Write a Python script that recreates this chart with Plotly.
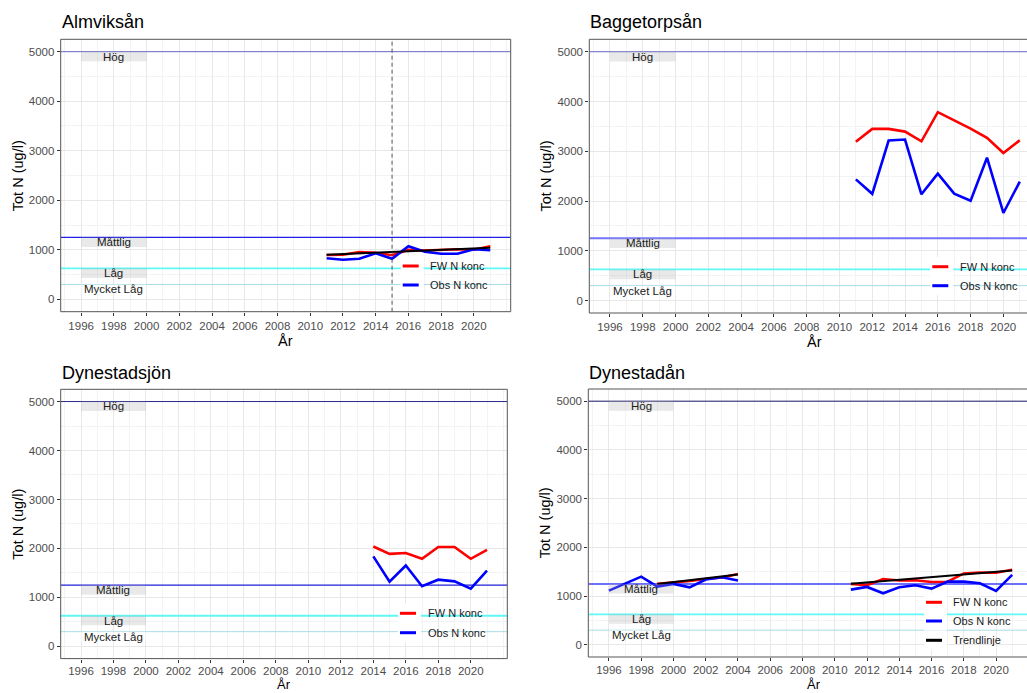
import plotly.graph_objects as go

W, H = 1027, 693
FONT = "Liberation Sans, Arial, sans-serif"

# ---------------- data ----------------
alm_years = [2011, 2012, 2013, 2014, 2015, 2016, 2017, 2018, 2019, 2020, 2021]
alm_fw = [895, 900, 955, 940, 890, 1000, 985, 1000, 1010, 1000, 1070]
alm_obs = [830, 800, 820, 930, 820, 1070, 960, 920, 920, 1010, 990]
alm_trend_years = [2011, 2021]
alm_trend = [900, 1040]
alm_break_year = 2015

bag_years = [2011, 2012, 2013, 2014, 2015, 2016, 2017, 2018, 2019, 2020, 2021]
bag_fw = [3190, 3450, 3450, 3395, 3200, 3785, 3620, 3455, 3270, 2965, 3220]
bag_obs = [2435, 2145, 3215, 3235, 2135, 2550, 2150, 2005, 2870, 1760, 2390]

dsj_years = [2014, 2015, 2016, 2017, 2018, 2019, 2020, 2021]
dsj_fw = [2040, 1889, 1908, 1788, 2030, 2030, 1788, 1970]
dsj_obs = [1838, 1323, 1651, 1228, 1362, 1328, 1180, 1549]

dyn_years = [1996, 1997, 1998, 1999, 2000, 2001, 2002, 2003, 2004, 2005,
             2006, 2007, 2008, 2009, 2010, 2011, 2012, 2013, 2014, 2015,
             2016, 2017, 2018, 2019, 2020, 2021]
dyn_fw = [None, None, None, 1250, 1275, 1310, 1350, 1380, 1455, None,
          None, None, None, None, None, 1250, 1225, 1350, 1320, 1325,
          1290, 1295, 1465, 1485, 1480, 1540]
dyn_obs = [1113, 1260, 1400, 1195, 1250, 1180, 1340, 1385, 1320, None,
           None, None, None, None, None, 1133, 1188, 1057, 1181, 1222,
           1153, 1297, 1297, 1262, 1106, 1434]
dyn_trend_years = [1999, 2004, None, 2011, 2021]
dyn_trend = [1250, 1445, None, 1255, 1525]

# class limits (ug/l) and their labels
class_limits = [5000, 1250, 625, 300]
class_labels = ["Hög", "Måttlig", "Låg", "Mycket Låg"]

x_ticks = [1996, 1998, 2000, 2002, 2004, 2006, 2008, 2010, 2012, 2014,
           2016, 2018, 2020]
y_ticks = [0, 1000, 2000, 3000, 4000, 5000]

legend_names = ["FW N konc", "Obs N konc", "Trendlinje"]

# ---------------- panel layout (pixels) ----------------
panels = [
    dict(title="Almviksån", box=(60.7, 39.3, 510.7, 311.7), xr=(1994.75, 2022.25),
         hog="#6b6bc8", matt="#1f1fe6", mattw=1.2, xtitle_y=340.5,
         leg=(402.7, 428, [266, 285])),
    dict(title="Baggetorpsån", box=(589.3, 39.3, 1027, 313.0), xr=(1994.74, 2021.44),
         hog="#6b6bc8", matt="#7373ff", mattw=2, xtitle_y=341.5,
         leg=(932.3, 957.7, [266.7, 285.7])),
    dict(title="Dynestadsjön", box=(60.7, 389.3, 507.3, 658.6), xr=(1994.75, 2022.25),
         hog="#2a2a8c", matt="#2020d8", mattw=1.2, xtitle_y=None,
         leg=(400, 425.7, [613.3, 632.7])),
    dict(title="Dynestadån", box=(588.3, 389.0, 1027, 657.0), xr=(1994.72, 2021.92),
         hog="#1c1c6b", matt="#6f6fff", mattw=2, xtitle_y=None,
         leg=(926, 951, [602.3, 621, 640.3])),
]

series = [
    [(alm_years, alm_fw, "red"), (alm_years, alm_obs, "blue"),
     (alm_trend_years, alm_trend, "black")],
    [(bag_years, bag_fw, "red"), (bag_years, bag_obs, "blue")],
    [(dsj_years, dsj_fw, "red"), (dsj_years, dsj_obs, "blue")],
    [(dyn_years, dyn_fw, "red"), (dyn_years, dyn_obs, "blue"),
     (dyn_trend_years, dyn_trend, "black")],
]
legend_colors = [["red", "blue"], ["red", "blue"], ["red", "blue"],
                 ["red", "blue", "black"]]


def px(x):
    return x / W


def py(y):
    return 1 - y / H


fig = go.Figure()
shapes, annos = [], []
layout = dict(width=W, height=H, margin=dict(l=0, r=0, t=0, b=0),
              paper_bgcolor="white", plot_bgcolor="white", showlegend=False,
              font=dict(family=FONT))

for i, p in enumerate(panels, start=1):
    sfx = "" if i == 1 else str(i)
    xa, ya = "x" + sfx, "y" + sfx
    x0, y0, x1, y1 = p["box"]
    bottom_row = p["xtitle_y"] is None
    layout["xaxis" + sfx] = dict(
        domain=[px(x0), px(x1)], range=list(p["xr"]), anchor=ya,
        tickmode="array", tickvals=x_ticks, ticks="outside", ticklen=3,
        tickcolor="#333333", tickwidth=1,
        ticklabelstandoff=-1 if bottom_row else 0,
        tickfont=dict(size=11.5, color="#4d4d4d", family=FONT),
        showgrid=True, gridcolor="#e8e8e8", gridwidth=1,
        minor=dict(dtick=1, tick0=1996, showgrid=True, gridcolor="#f3f3f3",
                   gridwidth=1),
        zeroline=False, showline=False, fixedrange=True)
    layout["yaxis" + sfx] = dict(
        domain=[py(y1), py(y0)], range=[-250, 5250], anchor=xa,
        tickmode="array", tickvals=y_ticks, ticks="outside", ticklen=3,
        tickcolor="#333333", tickwidth=1,
        tickfont=dict(size=11.5, color="#4d4d4d", family=FONT),
        showgrid=True, gridcolor="#e8e8e8", gridwidth=1,
        minor=dict(dtick=500, tick0=0, showgrid=True, gridcolor="#f3f3f3",
                   gridwidth=1),
        zeroline=False, showline=False, fixedrange=True)

    # class limit lines
    limit_styles = [(p["hog"], 1), (p["matt"], p["mattw"]),
                    ("#5ff7f7", 1.8), ("#a9dbe6", 1)]
    for lim, (col, lw) in zip(class_limits, limit_styles):
        fig.add_trace(go.Scatter(x=list(p["xr"]), y=[lim, lim], mode="lines",
                                 line=dict(color=col, width=lw),
                                 xaxis=xa, yaxis=ya, hoverinfo="skip",
                                 cliponaxis=True))

    # measured series
    for xs, ys, col in series[i - 1]:
        lw = 2 if col == "black" else 2.6
        fig.add_trace(go.Scatter(x=xs, y=ys, mode="lines",
                                 line=dict(color=col, width=lw),
                                 connectgaps=False, xaxis=xa, yaxis=ya))

    # class label boxes and texts
    for lim, lab in zip(class_limits, class_labels):
        fill = ("rgba(255,255,255,0.5)" if lab == "Mycket Låg"
                else "rgba(175,175,175,0.28)")
        shapes.append(dict(type="rect", xref=xa, yref=ya, x0=1996, x1=2000,
                           y0=lim - 195, y1=lim, fillcolor=fill,
                           line=dict(width=0), layer="above"))
        annos.append(dict(x=1998, y=lim - 100, xref=xa, yref=ya, text=lab,
                          showarrow=False, xanchor="center", yanchor="middle",
                          font=dict(size=11.5, color="#1a1a1a", family=FONT)))

    # panel border (left/top/bottom; right panels run past the page edge)
    shapes.append(dict(type="rect", xref=xa + " domain", yref=ya + " domain",
                       x0=0, x1=1 if x1 < W - 1 else 1.05, y0=0, y1=1,
                       line=dict(color="#555555", width=1), layer="above"))

    # titles
    annos.append(dict(x=px(x0 - 1), y=py(22.5 if y0 < 300 else 372.5),
                      xref="paper", yref="paper", text=p["title"],
                      showarrow=False, xanchor="left", yanchor="middle",
                      font=dict(size=18, color="black", family=FONT)))
    annos.append(dict(x=px(x0 - 43), y=py((y0 + y1) / 2), xref="paper",
                      yref="paper", text="Tot N (ug/l)", textangle=-90,
                      showarrow=False, xanchor="center", yanchor="middle",
                      font=dict(size=14.5, color="black", family=FONT)))
    xt_x = px((x0 + (x1 if x1 < W - 1 else x1 + 13)) / 2)
    if not bottom_row:
        annos.append(dict(x=xt_x, y=py(p["xtitle_y"]), xref="paper",
                          yref="paper", text="År", showarrow=False,
                          xanchor="center", yanchor="middle",
                          font=dict(size=14.5, color="black", family=FONT)))
    else:
        # bottom row: title sits on the lower page edge
        annos.append(dict(x=xt_x, y=0, xref="paper", yref="paper", text="År",
                          showarrow=False, xanchor="center", yanchor="bottom",
                          borderpad=0,
                          font=dict(size=13, color="black", family=FONT)))

    # legend inside panel
    kx, tx, rows = p["leg"]
    for name, col, ry in zip(legend_names, legend_colors[i - 1], rows):
        shapes.append(dict(type="rect", xref="paper", yref="paper",
                           x0=px(kx - 2), x1=px(kx + 21), y0=py(ry + 9.5),
                           y1=py(ry - 9.5), fillcolor="white",
                           line=dict(width=0), layer="above"))
        shapes.append(dict(type="line", xref="paper", yref="paper",
                           x0=px(kx), x1=px(kx + 16), y0=py(ry), y1=py(ry),
                           line=dict(color=col, width=3), layer="above"))
        annos.append(dict(x=px(tx), y=py(ry), xref="paper", yref="paper",
                          text=name, showarrow=False, xanchor="left",
                          yanchor="middle",
                          font=dict(size=11, color="#1a1a1a", family=FONT)))

# dashed break line in the first panel
shapes.append(dict(type="line", xref="x", yref="y domain", x0=alm_break_year,
                   x1=alm_break_year, y0=0, y1=1,
                   line=dict(color="#555555", width=1, dash="4px,3px"),
                   layer="above"))

layout["shapes"] = shapes
layout["annotations"] = annos
fig.update_layout(**layout)
fig.write_html("out.html")
